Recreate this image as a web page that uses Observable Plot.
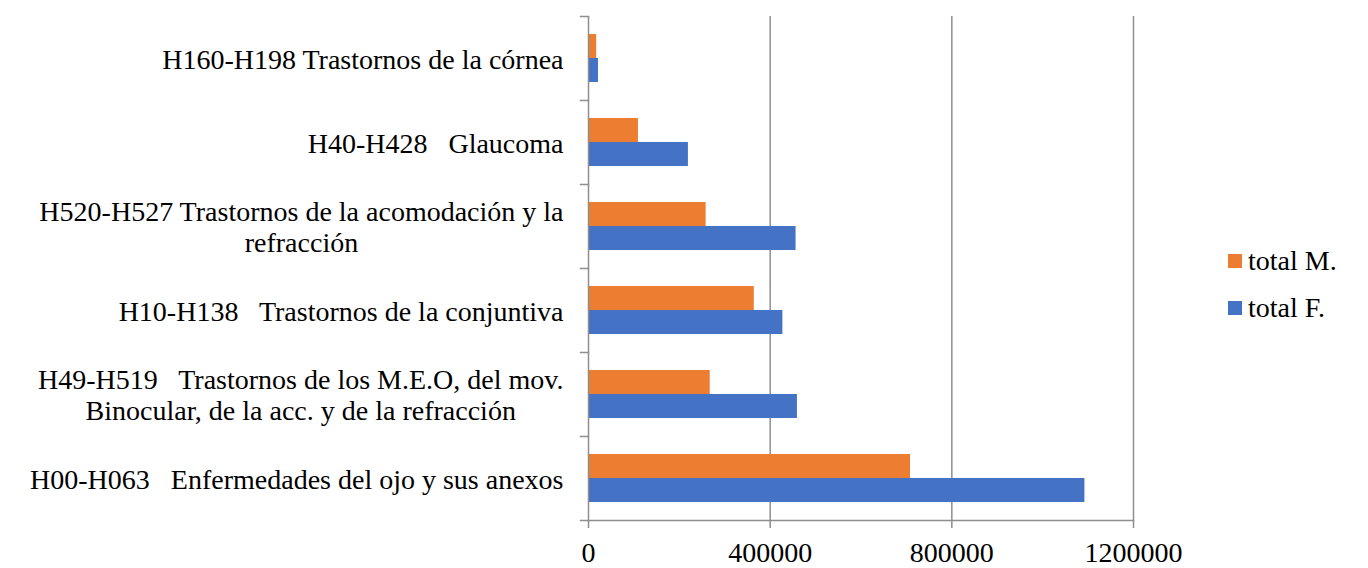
<!DOCTYPE html>
<html>
<head>
<meta charset="utf-8">
<script src="https://cdn.jsdelivr.net/npm/d3@7"></script>
<script src="https://cdn.jsdelivr.net/npm/@observablehq/plot@0.6"></script>
<style>
  html, body { margin: 0; padding: 0; background: #fff; }
  #chart { position: relative; width: 1368px; height: 568px; font-family: "Liberation Serif", "Times New Roman", serif; }
  #chart svg text { white-space: pre; }
  .legend { position: absolute; left: 1228px; top: 246px; font-size: 28px; color: #000; }
  .legend .item { display: flex; align-items: center; height: 30px; line-height: 30px; margin-bottom: 17px; }
  .legend .swatch { width: 14px; height: 14px; margin-right: 6px; }
</style>
</head>
<body>
<div id="chart"></div>
<script>
// Diagnostic groups, listed top to bottom
const categories = [
  "H160-H198 Trastornos de la córnea",
  "H40-H428   Glaucoma",
  "H520-H527 Trastornos de la acomodación y la\nrefracción",
  "H10-H138   Trastornos de la conjuntiva",
  "H49-H519   Trastornos de los M.E.O, del mov.\nBinocular, de la acc. y de la refracción",
  "H00-H063   Enfermedades del ojo y sus anexos"
];
const seriesNames = ["total M.", "total F."];
const totalM = [18000, 110000, 259000, 365000, 268000, 709000];
const totalF = [22000, 220000, 457000, 428000, 460000, 1093000];
const xTicks = [0, 400000, 800000, 1200000];
const seriesColors = ["#ED7D31", "#4472C4"];

// long-format table for the grouped bars
const rows = categories.flatMap((c, i) => [
  {category: c, series: seriesNames[0], value: totalM[i]},
  {category: c, series: seriesNames[1], value: totalF[i]}
]);

const width = 1190, height = 568;
const marginLeft = 588, marginRight = 57, marginTop = 14, marginBottom = 47;
const plotW = width - marginLeft - marginRight;
const axisColor = "#8e8e8e";
const tickLen = 8;

const chart = Plot.plot({
  width, height, marginLeft, marginRight, marginTop, marginBottom,
  style: {fontFamily: "'Liberation Serif', 'Times New Roman', serif", fontSize: "28px", background: "#fff", color: "#000"},
  x: {domain: [0, 1200000]},
  fy: {domain: categories, padding: 0, axis: null},
  y: {domain: seriesNames, paddingInner: 0, paddingOuter: 0.74, axis: null},
  color: {domain: seriesNames, range: seriesColors},
  marks: [
    Plot.gridX({ticks: xTicks.slice(1), stroke: axisColor, strokeOpacity: 1, strokeWidth: 1.5}),
    Plot.barX(rows, {fy: "category", y: "series", x: "value", fill: "series"}),
    // vertical category axis with tick marks between groups
    Plot.ruleX([0], {stroke: axisColor, strokeWidth: 1.5}),
    Plot.frame({anchor: "top", insetLeft: -tickLen, insetRight: plotW, stroke: axisColor, strokeWidth: 1.5}),
    Plot.frame({anchor: "bottom", insetLeft: -tickLen, facetAnchor: "bottom", stroke: axisColor, strokeWidth: 1.5}),
    Plot.axisX({ticks: xTicks, tickFormat: d3.format("d"), tickSize: tickLen, tickPadding: 14,
      fontSize: 28, stroke: axisColor, strokeWidth: 1.5, fill: "#000", label: null}),
    Plot.text(categories, {fy: d => d, text: d => d, frameAnchor: "left", textAnchor: "end",
      dx: -25, fontSize: 28, lineHeight: 1.125, fill: "#000"})
  ]
});

const root = document.getElementById("chart");
root.appendChild(chart);

// centre the wrapped lines of two-line category labels within their block
chart.querySelectorAll("text").forEach(t => {
  const spans = t.querySelectorAll("tspan");
  if (spans.length < 2) return;
  const widths = Array.from(spans, s => s.getComputedTextLength());
  const w = Math.max(...widths);
  spans.forEach((s, i) => s.setAttribute("x", -(w - widths[i]) / 2));
});

// legend
const legend = document.createElement("div");
legend.className = "legend";
seriesNames.forEach((name, i) => {
  const item = document.createElement("div");
  item.className = "item";
  const sw = document.createElement("span");
  sw.className = "swatch";
  sw.style.background = seriesColors[i];
  const label = document.createElement("span");
  label.textContent = name;
  item.append(sw, label);
  legend.appendChild(item);
});
root.appendChild(legend);
</script>
</body>
</html>
